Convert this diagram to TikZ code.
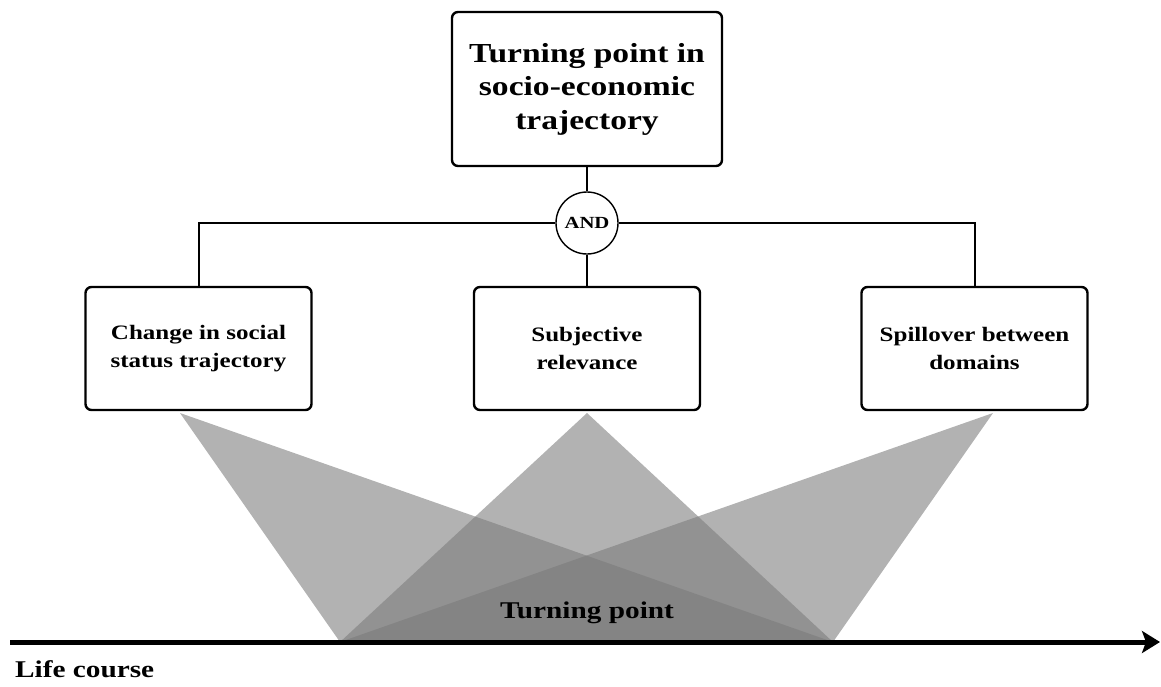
\documentclass[tikz,border=0pt]{standalone}
\usepackage{fontspec}
\setmainfont{Liberation Serif}[FakeStretch=1.22]
\usetikzlibrary{arrows.meta}
\tikzset{
  box/.style={draw, line width=2.4pt, rounded corners=6pt, align=center, font=\bfseries\fontsize{20.5}{28}\selectfont, inner sep=0pt},
  topbox/.style={box, minimum width=270pt, minimum height=154pt, font=\bfseries\fontsize{27.5}{33.5}\selectfont},
  sidebox/.style={box, minimum width=226pt, minimum height=123pt},
  andnode/.style={draw, circle, line width=1.4pt, minimum size=62pt, inner sep=0pt, font=\bfseries\fontsize{17}{18}\selectfont, fill=white},
  conn/.style={line width=2pt},
  shade/.style={fill={rgb,255:red,123;green,123;blue,123}, fill opacity=0.584},
  axis/.style={line width=5pt, -{Stealth[length=18pt,width=22pt,inset=4pt]}},
  lbl/.style={font=\bfseries\fontsize{24}{28}\selectfont, inner sep=0pt}
}
\begin{document}
\begin{tikzpicture}[x=1pt,y=-1pt]
\useasboundingbox (0,0) rectangle (1161,686);
\coordinate (p1) at (340,642);
\coordinate (p2) at (833,642);
\coordinate (a1) at (180,413);
\coordinate (a2) at (587,413);
\coordinate (a3) at (993,413);
\fill[shade] (a1) -- (p1) -- (p2) -- cycle;
\fill[shade] (a2) -- (p1) -- (p2) -- cycle;
\fill[shade] (a3) -- (p1) -- (p2) -- cycle;
\node[topbox] (top) at (587,89) {Turning point in\\socio-economic\\trajectory};
\node[sidebox] (b1) at (198.5,348.5) {Change in social\\status trajectory};
\node[sidebox] (b2) at (587,348.5) {Subjective\\relevance};
\node[sidebox] (b3) at (974.5,348.5) {Spillover between\\domains};
\node[andnode] (and) at (587,223) {AND};
\draw[conn] (top.south) -- (and.north);
\draw[conn] (and.south) -- (b2.north);
\draw[conn] (and.west) -| (b1.north);
\draw[conn] (and.east) -| (b3.north);
\coordinate (ax0) at (10,642);
\coordinate (ax1) at (1160,642);
\draw[axis] (ax0) -- (ax1);
\node[lbl] (tp) at (587,613) {Turning point};
\node[lbl, anchor=west] (lc) at (15,669) {Life course};
\end{tikzpicture}
\end{document}
